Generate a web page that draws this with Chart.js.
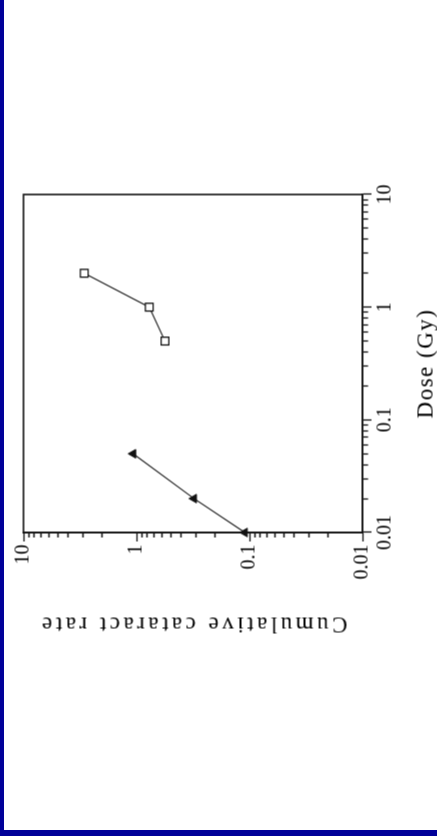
<!DOCTYPE html>
<html>
  <head>
    <meta charset="UTF-8">
    <title>Cumulative cataract rate</title>
    <script src="https://cdn.jsdelivr.net/npm/chart.js"></script>
    <style>
      html, body { margin: 0; padding: 0; background: #fff; }
      #page {
        position: relative; width: 437px; height: 836px; overflow: hidden;
        box-sizing: border-box; border-left: 4px solid #000099; border-bottom: 6px solid #000099;
      }
      /* the chart is drawn upright, then turned a quarter turn to the left */
      #turn {
        position: absolute; left: -199.5px; top: 199.5px; width: 836px; height: 437px;
        transform: rotate(-90deg);
      }
    </style>
  </head>
  <body>
    <div id="page"></div>
    <div id="turn"><canvas id="chart" width="836" height="437"></canvas></div>

    <script>
      // Triangles (low dose group)
      const doseTri = [0.01, 0.02, 0.05];
      const rateTri = [0.11, 0.31, 1.07];

      // Squares (high dose group)
      const doseSq = [0.5, 1, 2];
      const rateSq = [0.56, 0.77, 2.9];

      // Axis decades and their labels
      const decades = [0.01, 0.1, 1, 10];
      const decadeLabels = ['0.01', '0.1', '1', '10'];
      const minorSteps = [2, 3, 4, 5, 6, 7, 8, 9];

      const tickValues = [];
      decades.forEach((d, i) => {
        tickValues.push(d);
        if (i < decades.length - 1) minorSteps.forEach(m => tickValues.push(d * m));
      });

      const isDecade = v => decades.indexOf(v) !== -1;
      const labelFor = v => {
        const i = decades.indexOf(v);
        return i === -1 ? '' : decadeLabels[i];
      };

      Chart.defaults.font.family = "'Liberation Serif', 'DejaVu Serif', serif";
      Chart.defaults.color = '#000';

      // wider letter spacing for the axis titles, like the typewritten original
      const titleSpacing = { x: '1.5px', y: '3.5px' };
      const spacedTitle = {
        id: 'spacedTitle',
        beforeDraw(chart) {
          Object.keys(titleSpacing).forEach(id => {
            const s = chart.scales[id];
            if (!s || s._spaced) return;
            const orig = s.drawTitle;
            s.drawTitle = function () {
              const prev = this.ctx.letterSpacing;
              this.ctx.letterSpacing = titleSpacing[id];
              orig.call(this);
              this.ctx.letterSpacing = prev;
            };
            s._spaced = true;
          });
        }
      };

      // closed box round the plot area
      const frame = {
        id: 'frame',
        beforeDatasetsDraw(chart) {
          const { ctx, chartArea: a } = chart;
          ctx.save();
          ctx.strokeStyle = '#111';
          ctx.lineWidth = 1.6;
          ctx.strokeRect(a.left, a.top, a.right - a.left, a.bottom - a.top);
          ctx.restore();
        }
      };

      const axisCommon = {
        type: 'logarithmic',
        min: 0.01,
        max: 10,
        afterBuildTicks: s => { s.ticks = tickValues.map(v => ({ value: v })); },
        border: { display: true, color: '#111', width: 1.6 }
      };

      new Chart(document.getElementById('chart').getContext('2d'), {
        type: 'line',
        data: {
          datasets: [
            {
              label: 'Triangles',
              data: doseTri.map((d, i) => ({ x: d, y: rateTri[i] })),
              borderColor: '#222',
              borderWidth: 1.2,
              pointStyle: 'triangle',
              pointRadius: 5,
              pointBackgroundColor: '#111',
              pointBorderColor: '#111',
              pointBorderWidth: 1,
              clip: false
            },
            {
              label: 'Squares',
              data: doseSq.map((d, i) => ({ x: d, y: rateSq[i] })),
              borderColor: '#222',
              borderWidth: 1.2,
              pointStyle: 'rect',
              pointRadius: 5.5,
              pointBackgroundColor: '#fff',
              pointBorderColor: '#111',
              pointBorderWidth: 1.3,
              clip: false
            }
          ]
        },
        options: {
          responsive: false,
          animation: false,
          layout: { padding: { left: 200, right: 194, top: 23, bottom: 0 } },
          plugins: { legend: { display: false }, tooltip: { enabled: false } },
          scales: {
            x: {
              ...axisCommon,
              position: 'bottom',
              afterFit: s => { s.height = 75; },
              ticks: { autoSkip: false, maxRotation: 0, padding: 2, font: { size: 20 }, callback: v => labelFor(v) },
              grid: {
                drawOnChartArea: false,
                tickLength: 9,
                tickColor: '#111',
                tickWidth: 1.3,
                tickBorderDash: c => isDecade(c.tick.value) ? [] : [5, 100]
              },
              title: { display: true, text: 'Dose (Gy)', font: { size: 23, lineHeight: 1 }, padding: { top: 0, bottom: 0 } }
            },
            y: {
              ...axisCommon,
              position: 'left',
              afterFit: s => { s.width = 104; },
              ticks: { autoSkip: false, padding: 3, font: { size: 20 }, callback: v => labelFor(v) },
              grid: {
                drawOnChartArea: false,
                tickLength: 9,
                tickColor: '#111',
                tickWidth: 1.3,
                tickBorderDash: c => isDecade(c.tick.value) ? [] : [0, 4, 5, 100]
              },
              title: { display: true, text: 'Cumulative cataract rate', font: { size: 23, lineHeight: 1 }, padding: { top: 1, bottom: 0 } }
            }
          }
        },
        plugins: [spacedTitle, frame]
      });
    </script>
  </body>
</html>
